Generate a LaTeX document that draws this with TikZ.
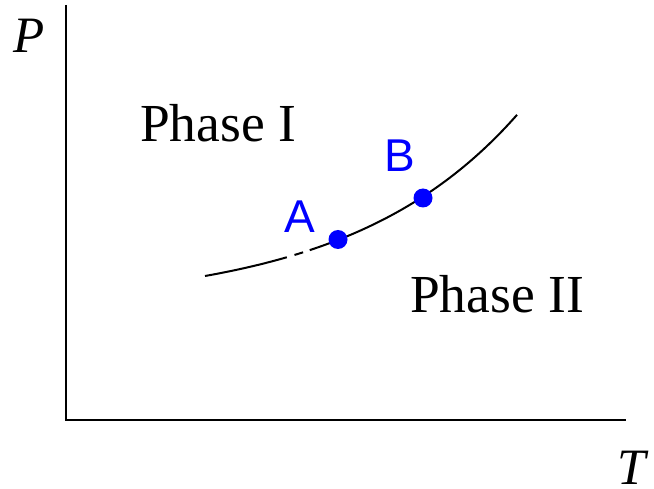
\documentclass[tikz,border=0pt]{standalone}
\usepackage{fontspec}
\setmainfont{Liberation Serif}
\setsansfont{Liberation Sans}
\definecolor{ptblue}{RGB}{0,0,255}
\begin{document}
\begin{tikzpicture}[x=1pt,y=-1pt,
  axis/.style={line width=2.4pt},
  curveline/.style={line width=2pt},
  dot/.style={circle,fill=ptblue,inner sep=0pt,minimum size=19pt},
  phaselabel/.style={anchor=base west,inner sep=0pt,font=\fontsize{53.5}{60}\selectfont},
  axislabel/.style={inner sep=0pt,font=\fontsize{51}{60}\selectfont\itshape},
  ptlabel/.style={inner sep=0pt,text=ptblue,font=\fontsize{46}{54}\selectfont\sffamily}]
\useasboundingbox (0,0) rectangle (654,489);
% axes
\coordinate (top) at (66,5);
\coordinate (origin) at (66,420);
\coordinate (right) at (626,420);
\draw[axis] (top) -- (origin) -- (right);
\node[axislabel] (P) at (29,36) {P};
\node[axislabel] (T) at (632,468) {T};
% curve
\coordinate (c2) at (338,239.5);
\coordinate (c3) at (423,198);
\draw[curveline,dash pattern=on 84pt off 8pt on 9pt off 7pt on 2000pt]
  plot[domain=205:517,samples=90,smooth] (\x,{276-30*(exp((\x-205)*0.005933)-1)});
\node[dot] (A) at (c2) {};
\node[dot] (B) at (c3) {};
\node[ptlabel] (Alab) at (300,217) {A};
\node[ptlabel] (Blab) at (400,156) {B};
\node[phaselabel] (ph1) at (140,142) {Phase I};
\node[phaselabel] (ph2) at (410,313) {Phase II};
\end{tikzpicture}
\end{document}
